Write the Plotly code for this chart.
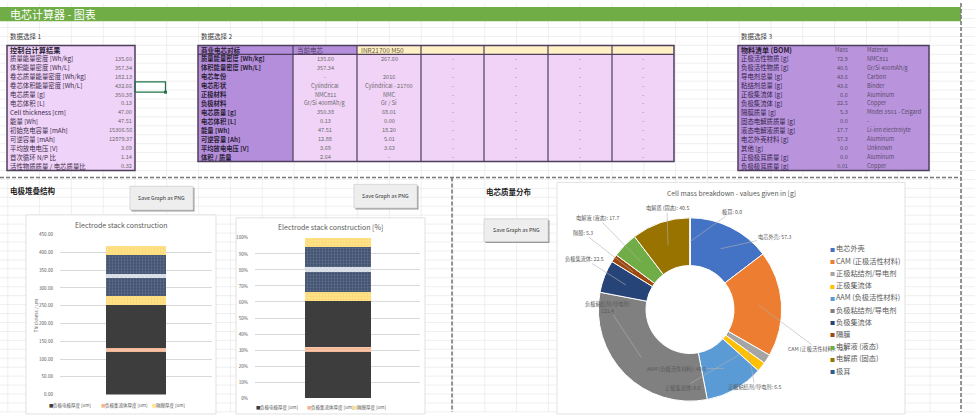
import math
import plotly.graph_objects as go

W, H = 975, 415
FONT = "Noto Sans CJK SC"

# ------------------------------------------------------------------ data
page_title = "电芯计算器 - 图表"
sel_titles = ["数据选择 1", "数据选择 2", "数据选择 3"]

t1_header = "控制台计算结果"
t1_labels = ["质量能量密度 [Wh/kg]", "体积能量密度 [Wh/L]", "卷芯质量能量密度 [Wh/kg]",
             "卷芯体积能量密度 [Wh/L]", "电芯质量 [g]", "电芯体积 [L]", "Cell thickness [cm]",
             "能量 [Wh]", "初始充电容量 [mAh]", "可逆容量 [mAh]", "平均放电电压 [V]",
             "首次循环 N/P 比", "活性物质质量 / 电芯质量比"]
t1_values = ["135.60", "357.34", "182.13", "432.66", "350.38", "0.13", "47.00", "47.51",
             "15306.56", "12879.37", "3.69", "1.14", "0.32"]

t2_header = ["商业电芯对标", "当前电芯", "INR21700 M50", "", "", "", ""]
t2_labels = ["质量能量密度 [Wh/kg]", "体积能量密度 [Wh/L]", "电芯年份", "电芯形状", "正极材料",
             "负极材料", "电芯质量 [g]", "电芯体积 [L]", "能量 [Wh]", "可逆容量 [Ah]",
             "平均放电电压 [V]", "体积 / 质量"]
t2_current = ["135.60", "357.34", "-", "Cylindrical", "NMC811", "Gr/Si 400mAh/g", "350.38",
              "0.13", "47.51", "12.88", "3.69", "2.64"]
t2_m50 = ["267.60", "", "2016", "Cylindrical - 21700", "NMC", "Gr / Si", "68.01", "0.00",
          "18.20", "5.01", "3.63", "-"]
t2_other = ["-"] * 12

t3_header = ["物料清单 (BOM)", "Mass", "Material"]
t3_labels = ["正极活性物质 [g]", "负极活性物质 [g]", "导电剂总量 [g]", "粘结剂总量 [g]",
             "正极集流体 [g]", "负极集流体 [g]", "隔膜质量 [g]", "固态电解质质量 [g]",
             "液态电解液质量 [g]", "电芯外壳材料 [g]", "其他 [g]", "正极极耳质量 [g]",
             "负极极耳质量 [g]"]
t3_mass = ["72.9", "40.5", "43.6", "43.6", "6.6", "22.5", "5.3", "0.0", "17.7", "57.3",
           "0.0", "0.0", "0.01"]
t3_material = ["NMC811", "Gr/Si 400mAh/g", "Carbon", "Binder", "Aluminum", "Copper",
               "Model 3501 - Celgard", "-", "Li-ion electrolyte", "Aluminum", "Unknown",
               "Aluminum", "Copper"]

section_titles = ["电极堆叠结构", "电芯质量分布"]
button_text = "Save Graph as PNG"

stack_category = [""]
stack_names = ["负极电极厚度 [um]", "负极集流体厚度 [um]", "负极电极厚度 [um]", "隔膜厚度 [um]",
               "正极电极厚度 [um]", "正极集流体厚度 [um]", "正极电极厚度 [um]", "隔膜厚度 [um]"]
stack_um = [120, 12, 120, 25, 52, 11, 52, 25]
stack_legend_idx = [0, 1, 3]
chart1_title = "Electrode stack construction"
chart1_ytitle = "Thickness / um"
chart2_title = "Electrode stack construction [%]"

mass_labels = ["电芯外壳", "CAM (正极活性材料)", "正极粘结剂/导电剂", "正极集流体",
               "AAM (负极活性材料)", "负极粘结剂/导电剂", "负极集流体", "隔膜",
               "电解液 (液态)", "电解质 (固态)", "极耳"]
mass_g = [57.3, 72.9, 6.5, 6.6, 40.5, 121.4, 22.5, 5.3, 17.7, 40.5, 0.0]
pie_title = "Cell mass breakdown - values given in [g]"

# ------------------------------------------------------------------ styles
bar_colors = ["#3d3d3d", "#f3b795", "#3d3d3d", "#ffe28c", "#42526e", "#d3dae4", "#42526e", "#ffe28c"]
bar_patterns = ["", "-", "", ".", ".", "x", ".", "."]
bar_pat_fg = ["#3d3d3d", "#fbe0cf", "#3d3d3d", "#f2c94c", "#8394b5", "#ffffff", "#8394b5", "#f2c94c"]
pie_colors = ["#4472c4", "#ed7d31", "#a5a5a5", "#ffc000", "#5b9bd5", "#808080",
              "#264478", "#9e480e", "#70ad47", "#997300", "#255e91"]
PIE_CX, PIE_CY, PIE_R = 690, 311, 93          # pixel placement of the doughnut
label_dx = [54, 59, 7, -61, -47, -33, -41, -50, -43, -1, 42]   # label offsets (px)
label_dy = [-12, 44, 41, 36, 0, -50, -26, -39, -44, -37, -30]
label_wrap = [False, False, False, False, False, True, False, False, False, False, False]


def px(x):
    return x / W


def py(y):
    return 1 - y / H


def rect(x0, y0, x1, y1, fill=None, line=None, lw=1, dash=None, layer="below"):
    d = dict(type="rect", xref="paper", yref="paper", x0=px(x0), x1=px(x1),
             y0=py(y1), y1=py(y0), layer=layer,
             fillcolor=fill if fill else "rgba(0,0,0,0)",
             line=dict(color=line if line else "rgba(0,0,0,0)", width=lw if line else 0))
    if dash:
        d["line"]["dash"] = dash
    return d


def hline(x0, x1, y, color, lw=1, dash=None, layer="below"):
    d = dict(type="line", xref="paper", yref="paper", x0=px(x0), x1=px(x1), y0=py(y), y1=py(y),
             layer=layer, line=dict(color=color, width=lw))
    if dash:
        d["line"]["dash"] = dash
    return d


def vline(x, y0, y1, color, lw=1, dash=None, layer="below"):
    d = dict(type="line", xref="paper", yref="paper", x0=px(x), x1=px(x), y0=py(y0), y1=py(y1),
             layer=layer, line=dict(color=color, width=lw))
    if dash:
        d["line"]["dash"] = dash
    return d


def txt(x, y, s, size=6.5, color="#404040", anchor="left", bold=False, angle=0):
    return dict(x=px(x), y=py(y), xref="paper", yref="paper",
                text=f"<b>{s}</b>" if bold else s, showarrow=False,
                xanchor=anchor, yanchor="middle", textangle=angle, borderpad=0,
                font=dict(family=FONT, size=size, color=color))


shapes = []
ann = []

# spreadsheet grid
gx = [7.8 + k * 31.8 for k in range(31)]
gy = [6.72 + k * 9.07 for k in range(46)]
path = "".join(f"M{px(x):.5f},0 L{px(x):.5f},1 " for x in gx)
path += "".join(f"M0,{py(y):.5f} L1,{py(y):.5f} " for y in gy)
shapes.append(dict(type="path", xref="paper", yref="paper", path=path, layer="below",
                   line=dict(color="#e4e4e4", width=0.6)))

# header bar
shapes.append(rect(0, 4, 961, 18.5, fill="#70ad47"))
ann.append(txt(9, 11.5, page_title, size=11, color="#ffffff"))

for x, s in zip([9, 200, 740], sel_titles):
    ann.append(txt(x, 33, s, size=6.5, color="#404040"))

ROW = 9.07
TOP = 43
BORDER = "#4e3f5c"

# ---- table 1
n1 = len(t1_labels) + 1
shapes.append(rect(7, TOP, 135, TOP + n1 * ROW, fill="#f0d3f8", line=BORDER, lw=1.5))
ann.append(txt(9, TOP + ROW / 2, t1_header, size=7.2, color="#2b1e36", bold=True))
for i, (lab, val) in enumerate(zip(t1_labels, t1_values)):
    yc = TOP + (i + 1.5) * ROW
    ann.append(txt(9, yc, lab, size=6.4, color="#3b2c48"))
    ann.append(txt(133, yc, val, size=5.6, color="#6a6a6a", anchor="right"))
# active cell
shapes.append(rect(135, 80, 165.5, 90.5, line="#217346", lw=1.3))
shapes.append(rect(164, 89, 167, 92, fill="#217346"))

# ---- table 2
col_edges = [198, 293, 357, 421, 484, 548, 612, 674]
n2 = len(t2_labels) + 1
bottom2 = TOP + n2 * ROW
shapes.append(rect(198, TOP, 293, bottom2, fill="#b48edb"))
shapes.append(rect(293, TOP, 357, TOP + ROW, fill="#b48edb"))
shapes.append(rect(357, TOP, 674, TOP + ROW, fill="#fff0c6"))
shapes.append(rect(293, TOP + ROW, 674, bottom2, fill="#f1d3f8"))
for x in col_edges[1:-1]:
    shapes.append(vline(x, TOP, bottom2, BORDER, lw=1.2))
shapes.append(hline(198, 674, TOP + ROW, BORDER, lw=1.2))
shapes.append(rect(198, TOP, 674, bottom2, line=BORDER, lw=1.5))
ann.append(txt(200, TOP + ROW / 2, t2_header[0], size=6.5, color="#2b1e36", bold=True))
ann.append(txt(296, TOP + ROW / 2, t2_header[1], size=6.5, color="#4a3a5a"))
ann.append(txt(360, TOP + ROW / 2, t2_header[2], size=6.5, color="#6a5a3a"))
cols2 = [t2_current, t2_m50, t2_other, t2_other, t2_other, t2_other]
for i, lab in enumerate(t2_labels):
    yc = TOP + (i + 1.5) * ROW
    ann.append(txt(200, yc, lab, size=6.3, color="#2b1e36", bold=True))
    for c, col in enumerate(cols2):
        xc = (col_edges[c + 1] + col_edges[c + 2]) / 2
        if col[i]:
            ann.append(txt(xc, yc, col[i], size=5.6, color="#6a6a6a", anchor="center"))

# ---- table 3
n3 = len(t3_labels) + 1
shapes.append(rect(738, TOP, 929, TOP + n3 * ROW, fill="#b994dd", line=BORDER, lw=1.5))
ann.append(txt(740, TOP + ROW / 2, t3_header[0], size=7, color="#2b1e36", bold=True))
ann.append(txt(849, TOP + ROW / 2, t3_header[1], size=5.6, color="#5a4a6a", anchor="right"))
ann.append(txt(866, TOP + ROW / 2, t3_header[2], size=5.6, color="#5a4a6a"))
for i, (lab, m, mat) in enumerate(zip(t3_labels, t3_mass, t3_material)):
    yc = TOP + (i + 1.5) * ROW
    ann.append(txt(740, yc, lab, size=6.4, color="#33224a"))
    ann.append(txt(849, yc, m, size=5.6, color="#5a4a6a", anchor="right"))
    ann.append(txt(866, yc, mat, size=5.6, color="#5a4a6a"))

# ---- dashed separators
DASH = "4px,2px"
shapes.append(hline(0, 961, 177, "#7a7a7a", lw=1.6, dash=DASH))
shapes.append(vline(961, 0, 415, "#7a7a7a", lw=1.6, dash=DASH))
shapes.append(vline(452, 177, 415, "#7a7a7a", lw=1.6, dash=DASH))

# ---- section titles and buttons
ann.append(txt(9, 190, section_titles[0], size=7.5, color="#222222", bold=True))
ann.append(txt(485, 191, section_titles[1], size=7.5, color="#222222", bold=True))
for (bx0, by0, bx1, by1) in [(130, 186, 193, 210), (354, 184, 417, 208), (484, 219, 548, 242)]:
    shapes.append(rect(bx0 + 1.5, by0 + 1.5, bx1 + 1.5, by1 + 1.5, fill="#9a9a9a"))
    shapes.append(rect(bx0, by0, bx1, by1, fill="#eeeeee", line="#d0d0d0", lw=0.8))
    ann.append(txt((bx0 + bx1) / 2, (by0 + by1) / 2, button_text, size=5.3,
                   color="#333333", anchor="center"))

# ---- chart panels
shapes.append(rect(26, 215, 216, 417, fill="#ffffff", line="#d9d9d9", lw=0.8))
shapes.append(rect(236, 218, 425, 417, fill="#ffffff", line="#d9d9d9", lw=0.8))
shapes.append(rect(557, 182, 905, 417, fill="#ffffff", line="#d9d9d9", lw=0.8))

# ------------------------------------------------------------------ traces
fig = go.Figure()
total = sum(stack_um)
stack_frac = [v / total for v in stack_um]
for i, (name, v, f) in enumerate(zip(stack_names, stack_um, stack_frac)):
    pat = dict(shape=bar_patterns[i], fgcolor=bar_pat_fg[i], bgcolor=bar_colors[i],
               size=3, solidity=0.35)
    fig.add_trace(go.Bar(x=stack_category, y=[v], name=name, xaxis="x", yaxis="y",
                         marker=dict(color=bar_colors[i], line=dict(width=0), pattern=pat),
                         showlegend=False, hoverinfo="skip"))
    fig.add_trace(go.Bar(x=stack_category, y=[f], name=name, xaxis="x2", yaxis="y2",
                         marker=dict(color=bar_colors[i], line=dict(width=0), pattern=pat),
                         showlegend=False, hoverinfo="skip"))

fig.add_trace(go.Pie(labels=mass_labels, values=mass_g, sort=False, direction="clockwise",
                     rotation=0, hole=0.48,
                     domain=dict(x=[px(PIE_CX - PIE_R), px(PIE_CX + PIE_R)],
                                 y=[py(PIE_CY + PIE_R), py(PIE_CY - PIE_R)]),
                     marker=dict(colors=pie_colors, line=dict(color="#ffffff", width=1)),
                     textinfo="none", showlegend=False, hoverinfo="skip"))

# doughnut data labels with leader lines, anchored at each slice's mid-angle
mass_total = sum(mass_g)
cum = 0.0
for i, (lab, v) in enumerate(zip(mass_labels, mass_g)):
    ang = (cum + v / 2) / mass_total * 2 * math.pi
    cum += v
    ax_ = PIE_CX + 0.74 * PIE_R * math.sin(ang)
    ay_ = PIE_CY - 0.74 * PIE_R * math.cos(ang)
    label = f"{lab}:<br>{v:.1f}" if label_wrap[i] else f"{lab}: {v:.1f}"
    ann.append(dict(x=px(ax_), y=py(ay_), xref="paper", yref="paper", text=label,
                    showarrow=True, arrowhead=0, arrowwidth=0.6, arrowcolor="#b0b0b0",
                    ax=label_dx[i], ay=label_dy[i], standoff=0, borderpad=0,
                    font=dict(family=FONT, size=5.2, color="#595959")))

# chart titles / axis titles / legends
ann.append(txt(121, 225, chart1_title, size=7, color="#595959", anchor="center"))
ann.append(txt(330, 227.5, chart2_title, size=7, color="#595959", anchor="center"))
ann.append(txt(35, 317, chart1_ytitle, size=4.8, color="#595959", anchor="center", angle=-90))
ann.append(txt(731, 193, pie_title, size=6.8, color="#595959", anchor="center"))

for xs, yl in [([48, 100, 151], 408), ([255, 306, 352], 410)]:
    for xx, idx in zip(xs, stack_legend_idx):
        ann.append(txt(xx, yl, "■", size=4.5, color=bar_colors[idx]))
        ann.append(txt(xx + 4, yl, stack_names[idx], size=4.5, color="#595959"))

for i, (lab, col) in enumerate(zip(mass_labels, pie_colors)):
    yl = 249 + i * 12.4
    ann.append(txt(828.5, yl, "■", size=5, color=col))
    ann.append(txt(834.5, yl, lab, size=7.2, color="#595959"))

axis_font = dict(family=FONT, size=4.6, color="#595959")
fig.update_layout(
    width=W, height=H, margin=dict(l=0, r=0, t=0, b=0),
    paper_bgcolor="#ffffff", plot_bgcolor="rgba(0,0,0,0)",
    barmode="stack", bargap=0.6, showlegend=False,
    shapes=shapes, annotations=ann,
    xaxis=dict(domain=[px(60), px(212)], showticklabels=False, showgrid=False,
               zeroline=False, showline=False, fixedrange=True),
    yaxis=dict(domain=[py(397.3), py(235)], range=[0, 450], dtick=50, tickformat=".2f",
               showgrid=True, gridcolor="#d9d9d9", gridwidth=0.6, zeroline=False,
               showline=False, ticks="", tickfont=axis_font, ticklabelstandoff=6),
    xaxis2=dict(domain=[px(255), px(420)], anchor="y2", showticklabels=False,
                showgrid=False, zeroline=False, showline=False),
    yaxis2=dict(domain=[py(401), py(238.3)], anchor="x2", range=[0, 1], dtick=0.1,
                tickformat=".0%", showgrid=True, gridcolor="#d9d9d9", gridwidth=0.6,
                zeroline=False, showline=False, ticks="", tickfont=axis_font,
                ticklabelstandoff=6),
)

fig.write_html("out.html", config={"displayModeBar": False},
               post_script="document.body.style.margin='0';document.body.style.overflow='hidden';")
